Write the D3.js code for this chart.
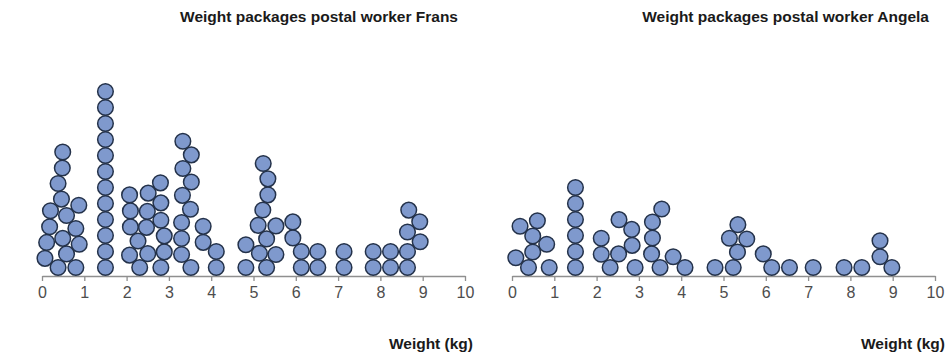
<!DOCTYPE html>
<html>
<head>
<meta charset="utf-8">
<script src="https://cdn.jsdelivr.net/npm/d3@7"></script>
<style>
  html, body { margin: 0; padding: 0; background: #ffffff; }
  svg { display: block; }
</style>
</head>
<body>
<svg id="chart" width="952" height="353"></svg>
<script>
// ---- data -------------------------------------------------------------
const tickValues = [0, 1, 2, 3, 4, 5, 6, 7, 8, 9, 10];
const titleFrans = "Weight packages postal worker Frans";
const titleAngela = "Weight packages postal worker Angela";
const axisLabel = "Weight (kg)";

// package weights in kg, listed in the order they are stacked
const fransWeights = [
  0.38, 0.80, 0.07, 0.58, 0.88, 0.11, 0.49, 0.18, 0.80, 0.58, 0.20, 0.87, 0.46, 0.38, 0.48, 0.49,
  1.5, 1.5, 1.5, 1.5, 1.5, 1.5, 1.5, 1.5, 1.5, 1.5, 1.5, 1.5,
  2.31, 2.81, 3.52, 2.50, 3.30, 2.89, 2.07, 2.27, 3.30, 2.89, 2.09, 2.47, 3.30, 2.81,
  2.09, 2.49, 3.51, 2.81, 2.07, 3.32, 2.51, 3.53, 2.80, 3.33, 3.53, 3.33,
  4.12, 4.12, 3.81, 3.81,
  4.82, 5.31, 5.14, 4.82, 5.53, 5.31, 5.11, 5.53, 5.22, 5.34, 5.34, 5.23,
  6.13, 6.52, 6.13, 6.52, 5.93, 5.93,
  7.14, 7.14, 7.83, 7.83, 8.24, 8.24,
  8.64, 8.64, 8.94, 8.64, 8.93, 8.67
];

const angelaWeights = [
  0.39, 0.88, 0.09, 0.49, 0.49, 0.19, 0.60, 0.82,
  1.5, 1.5, 1.5, 1.5, 1.5, 1.5,
  2.32, 2.91, 2.11, 2.52, 2.84, 2.11, 2.83, 2.53,
  3.50, 4.09, 3.30, 3.81, 3.32, 3.32, 3.54,
  4.80, 5.23, 5.33, 5.14, 5.55, 5.34,
  6.14, 6.56, 5.94,
  7.12, 7.85, 8.27,
  8.98, 8.70, 8.70
];

// ---- layout -----------------------------------------------------------
const W = 952, H = 353;
const axisY = 276;
const dotR = 7.8;
const spacing = 16;            // centre-to-centre distance of touching dots
const baseY = axisY - 8.5;     // centre of the bottom row of dots

const panels = [
  { title: titleFrans,  data: fransWeights,  range: [42, 465],  labelRight: 473, titleRight: 458 },
  { title: titleAngela, data: angelaWeights, range: [512, 935], labelRight: 945, titleRight: 929 }
];

// Stack each dot at the lowest height where it does not overlap earlier dots.
function stackDots(values, x) {
  const placed = [];
  values.forEach(v => {
    const cx = x(v);
    const near = placed.filter(p => Math.abs(p.x - cx) < spacing);
    const cands = [0];
    near.forEach(p => {
      const dx = p.x - cx;
      cands.push(p.h + Math.sqrt(spacing * spacing - dx * dx));
    });
    cands.sort((a, b) => a - b);
    const h = cands.find(c =>
      near.every(p => (p.x - cx) ** 2 + (p.h - c) ** 2 >= spacing * spacing - 0.01));
    placed.push({ v, x: cx, h });
  });
  return placed;
}

const svg = d3.select("#chart");
svg.append("rect").attr("width", W).attr("height", H).attr("fill", "#ffffff");

const y = d3.scaleLinear().domain([0, 250]).range([baseY, baseY - 250]);

panels.forEach(panel => {
  const x = d3.scaleLinear().domain([0, 10]).range(panel.range);
  const g = svg.append("g");

  // axis
  const axis = d3.axisBottom(x)
    .tickValues(tickValues)
    .tickFormat(d3.format("d"))
    .tickSizeInner(5)
    .tickSizeOuter(0)
    .tickPadding(6);
  const ax = g.append("g")
    .attr("transform", `translate(0,${axisY})`)
    .call(axis);
  ax.select(".domain").attr("stroke", "#8f8f8f").attr("stroke-width", 1.5);
  ax.selectAll(".tick line").attr("stroke", "#8f8f8f").attr("stroke-width", 1.3);
  ax.selectAll(".tick text")
    .attr("fill", "#4d4d4d")
    .attr("font-family", "'Liberation Sans', Arial, sans-serif")
    .attr("font-size", 16);

  // dots
  const dots = stackDots(panel.data, x);
  g.append("g")
    .selectAll("circle")
    .data(dots)
    .join("circle")
    .attr("cx", d => d.x)
    .attr("cy", d => y(d.h))
    .attr("r", dotR)
    .attr("fill", "#7f99cd")
    .attr("stroke", "#24324a")
    .attr("stroke-width", 1.5);

  // title
  g.append("text")
    .attr("x", panel.titleRight)
    .attr("y", 22)
    .attr("text-anchor", "end")
    .attr("font-family", "'Liberation Sans', Arial, sans-serif")
    .attr("font-weight", "bold")
    .attr("font-size", 15.5)
    .attr("fill", "#1a1a1a")
    .text(panel.title);

  // axis label
  g.append("text")
    .attr("x", panel.labelRight)
    .attr("y", 349)
    .attr("text-anchor", "end")
    .attr("font-family", "'Liberation Sans', Arial, sans-serif")
    .attr("font-weight", "bold")
    .attr("font-size", 15.5)
    .attr("fill", "#1a1a1a")
    .text(axisLabel);
});
</script>
</body>
</html>
